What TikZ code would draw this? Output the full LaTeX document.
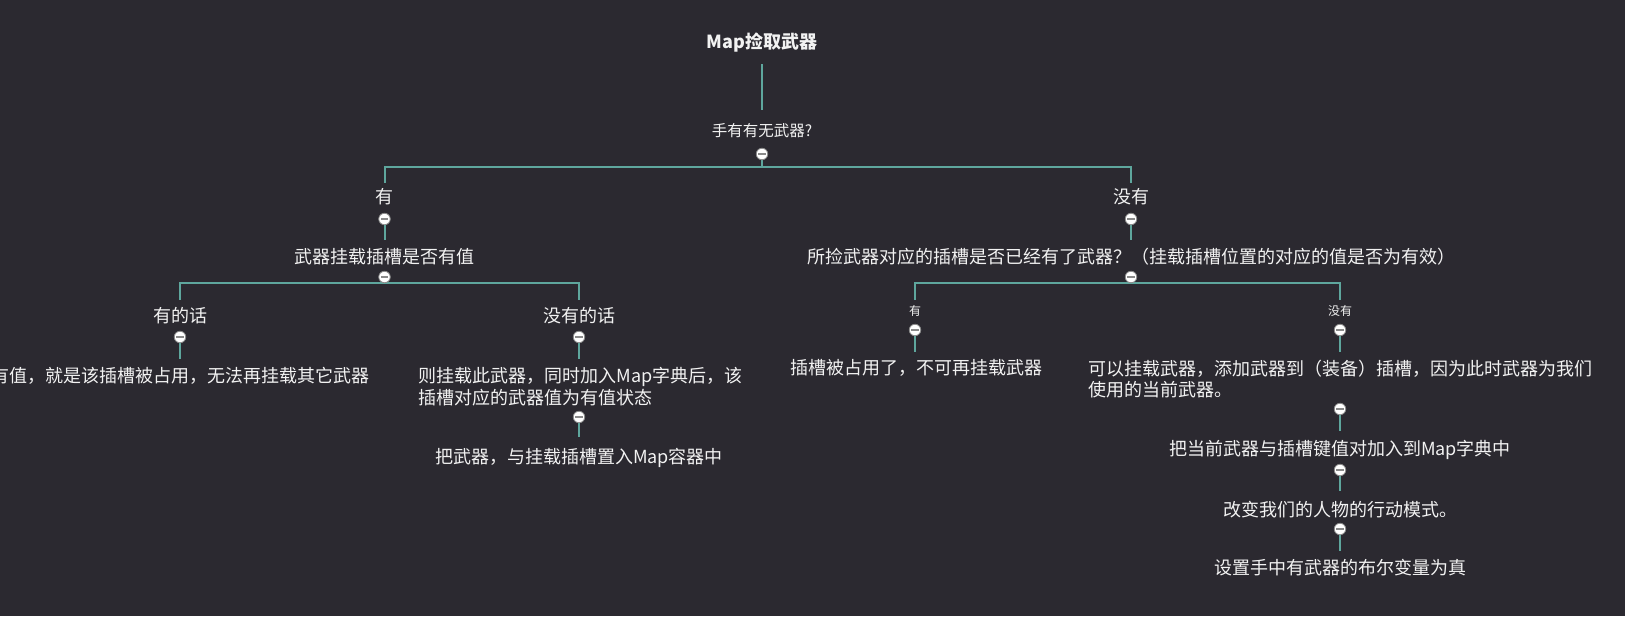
\documentclass[tikz,border=0pt]{standalone}
\usepackage{fontspec}
\setmainfont{Noto Sans CJK SC}
\definecolor{bg}{HTML}{2B2930}
\definecolor{teal2}{HTML}{5EA69D}
\definecolor{txt}{HTML}{F2F2F2}
\definecolor{tog}{HTML}{8A8A8A}
\begin{document}
\begin{tikzpicture}[x=1pt,y=-1pt,
 every node/.style={inner sep=0pt, outer sep=0pt, text=txt},
 lbl/.style={font=\fontsize{18}{21.5}\selectfont, text height=14.4pt, text depth=1.4pt},
 multi/.style={lbl, align=left},
 small/.style={font=\fontsize{12}{14}\selectfont, text height=9.6pt, text depth=1pt},
 conn/.style={draw=teal2, line width=2pt},
 toggle/.style={circle, draw=tog, line width=0.8pt, fill=white, minimum size=11.5pt,
   path picture={\draw[tog, line width=1.8pt] ([xshift=2pt]path picture bounding box.west) -- ([xshift=-2pt]path picture bounding box.east);}}]
\useasboundingbox (0,0) rectangle (1625,616);
\clip (0,0) rectangle (1625,616);
\fill[bg] (0,0) rectangle (1625,616);

% text nodes
\node[font=\bfseries\fontsize{18}{21}\selectfont, text height=14.4pt, text depth=1.4pt] (title) at (762,41.5) {Map捡取武器};
\node[font=\fontsize{15.5}{18}\selectfont, text height=12.4pt, text depth=1.2pt] (q1) at (762,131) {手有有无武器?};
\node[lbl] (yes1) at (384.5,197) {有};
\node[lbl] (no1) at (1131,197) {没有};
\node[lbl] (q2) at (384.5,257) {武器挂载插槽是否有值};
\node[lbl] (q3) at (1131,257) {所捡武器对应的插槽是否已经有了武器？（挂载插槽位置的对应的值是否为有效）};
\node[lbl] (yes2) at (180,316) {有的话};
\node[lbl] (no2) at (579,316) {没有的话};
\node[lbl] (leaf1) at (180,376) {有值，就是该插槽被占用，无法再挂载其它武器};
% multi-line nodes: the node box sits on the last line
\node[multi] (leaf2) at (580.5,397.5) {则挂载此武器，同时加入Map字典后，该\\插槽对应的武器值为有值状态};
\node[lbl] (leaf3) at (579,457) {把武器，与挂载插槽置入Map容器中};
\node[small] (yes3) at (915,311) {有};
\node[small] (no3) at (1340,311) {没有};
\node[lbl] (leaf4) at (916,368) {插槽被占用了，不可再挂载武器};
\node[multi] (leaf5) at (1340,390) {可以挂载武器，添加武器到（装备）插槽，因为此时武器为我们\\使用的当前武器。};
\node[lbl] (leaf6) at (1340,449) {把当前武器与插槽键值对加入到Map字典中};
\node[lbl] (leaf7) at (1340,510) {改变我们的人物的行动模式。};
\node[lbl] (leaf8) at (1340,568) {设置手中有武器的布尔变量为真};

% toggle positions
\coordinate (t1) at (762,154);
\coordinate (t2) at (384.5,219);
\coordinate (t3) at (1131,219);
\coordinate (t4) at (384.5,277);
\coordinate (t5) at (1131,277);
\coordinate (t6) at (180,337);
\coordinate (t7) at (579,337);
\coordinate (t8) at (579,417);
\coordinate (t9) at (915,330);
\coordinate (t10) at (1340,330);
\coordinate (t11) at (1340,409);
\coordinate (t12) at (1340,470);
\coordinate (t13) at (1340,529);

% connectors
\draw[conn, shorten <=22.5pt, shorten >=21pt] (title.center) -- (q1.center);
\draw[conn, shorten >=14pt] (t1) -- ++(0,13) -| (yes1.center);
\draw[conn, shorten >=14pt] (t1) -- ++(0,13) -| (no1.center);
\draw[conn, shorten >=17pt] (t2) -- (q2.center);
\draw[conn, shorten >=17pt] (t3) -- (q3.center);
\draw[conn, shorten >=16pt] (t4) -- ++(0,6) -| (yes2.center);
\draw[conn, shorten >=16pt] (t4) -- ++(0,6) -| (no2.center);
\draw[conn, shorten >=11pt] (t5) -- ++(0,6) -| (yes3.center);
\draw[conn, shorten >=11pt] (t5) -- ++(0,6) -| (no3.center);
\draw[conn, shorten >=17pt] (t6) -- (t6 |- leaf1.center);
\draw[conn, shorten >=30.5pt] (t7) -- (t7 |- leaf2.north);
\draw[conn, shorten >=20pt] (t8) -- (leaf3.center);
\draw[conn, shorten >=16pt] (t9) -- (t9 |- leaf4.center);
\draw[conn, shorten >=30pt] (t10) -- (leaf5.north);
\draw[conn, shorten >=18pt] (t11) -- (leaf6.center);
\draw[conn, shorten >=19pt] (t12) -- (leaf7.center);
\draw[conn, shorten >=17pt] (t13) -- (leaf8.center);

% toggles on top
\foreach \t in {1,...,13} { \node[toggle] (tg\t) at (t\t) {}; }
\end{tikzpicture}
\end{document}
